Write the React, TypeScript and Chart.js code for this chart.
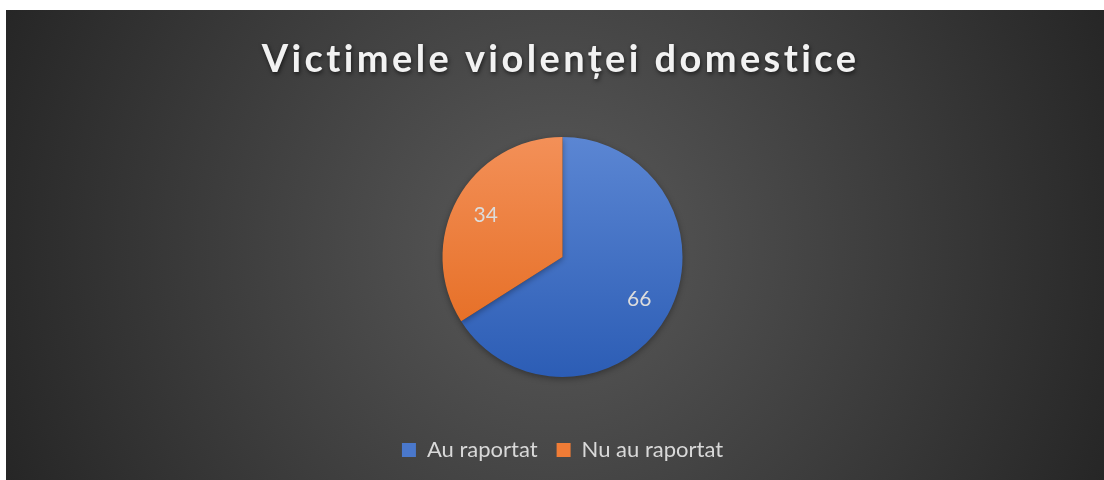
import React, { useEffect, useRef } from 'react';
import { Chart, registerables } from 'chart.js';

Chart.register(...registerables);

const TITLE = 'Victimele violenței domestice';
const categories = ['Au raportat', 'Nu au raportat'];
const values = [66, 34];
const topColors = ['#5b86d3', '#f39058'];
const bottomColors = ['#2c5db5', '#e3671a'];
const swatchColors = ['#4a78cc', '#f07c36'];

const PIE_RADIUS = 120;
const FONT = 'Lato, Carlito, Calibri, "Open Sans", sans-serif';

const titlePlugin = {
  id: 'customTitle',
  afterDraw(chart: any) {
    const { ctx, chartArea } = chart;
    const cx = (chartArea.left + chartArea.right) / 2 - 2;
    ctx.save();
    ctx.font = `bold 38px ${FONT}`;
    (ctx as any).letterSpacing = '3.4px';
    ctx.textAlign = 'center';
    ctx.textBaseline = 'alphabetic';
    ctx.shadowColor = 'rgba(0,0,0,0.6)';
    ctx.shadowBlur = 4;
    ctx.shadowOffsetX = 1;
    ctx.shadowOffsetY = 2;
    ctx.fillStyle = '#f2f2f2';
    ctx.fillText(TITLE, cx, 62);
    ctx.restore();
  },
};

const shadowPlugin = {
  id: 'pieShadow',
  beforeDatasetsDraw(chart: any) {
    const ctx = chart.ctx;
    ctx.save();
    ctx.shadowColor = 'rgba(0,0,0,0.35)';
    ctx.shadowBlur = 6;
    ctx.shadowOffsetY = 2;
  },
  afterDatasetsDraw(chart: any) {
    chart.ctx.restore();
  },
};

const valueLabelPlugin = {
  id: 'valueLabels',
  afterDatasetsDraw(chart: any) {
    const { ctx } = chart;
    const meta = chart.getDatasetMeta(0);
    ctx.save();
    ctx.font = `21px ${FONT}`;
    ctx.fillStyle = '#dcdcdc';
    ctx.textAlign = 'center';
    ctx.textBaseline = 'middle';
    meta.data.forEach((arc: any, i: number) => {
      const { x, y, startAngle, endAngle, outerRadius } = arc.getProps(
        ['x', 'y', 'startAngle', 'endAngle', 'outerRadius'],
        true
      );
      const mid = (startAngle + endAngle) / 2;
      const r = outerRadius * 0.73;
      ctx.fillText(String(values[i]), x + Math.cos(mid) * r, y + Math.sin(mid) * r);
    });
    ctx.restore();
  },
};

export default function App() {
  const canvasRef = useRef<HTMLCanvasElement | null>(null);

  useEffect(() => {
    if (!canvasRef.current) return;
    const chart = new Chart(canvasRef.current, {
      type: 'pie',
      data: {
        labels: categories,
        datasets: [
          {
            data: values,
            radius: PIE_RADIUS,
            borderWidth: 0,
            backgroundColor: (c: any) => {
              const i = c.dataIndex ?? 0;
              const chartObj = c.chart;
              const area = chartObj.chartArea;
              if (!area) return swatchColors[i];
              const cy = (area.top + area.bottom) / 2;
              const g = chartObj.ctx.createLinearGradient(0, cy - PIE_RADIUS, 0, cy + PIE_RADIUS);
              g.addColorStop(0, topColors[i]);
              g.addColorStop(1, bottomColors[i]);
              return g;
            },
          } as any,
        ],
      },
      options: {
        animation: false,
        responsive: false,
        maintainAspectRatio: false,
        layout: { padding: { top: 84, bottom: 9, left: 15, right: 0 } },
        plugins: {
          title: { display: false },
          tooltip: { enabled: false },
          legend: {
            display: true,
            position: 'bottom',
            labels: {
              font: { family: FONT, size: 22 },
              color: '#d9d9d9',
              boxWidth: 14,
              boxHeight: 14,
              padding: 19,
              generateLabels: () =>
                categories.map((label, i) => ({
                  text: label,
                  fillStyle: swatchColors[i],
                  strokeStyle: swatchColors[i],
                  lineWidth: 0,
                  fontColor: '#d9d9d9',
                  hidden: false,
                  index: i,
                })),
            },
          },
        },
      },
      plugins: [shadowPlugin, valueLabelPlugin, titlePlugin],
    });
    return () => chart.destroy();
  }, []);

  return (
    <div
      style={{
        position: 'absolute',
        left: 6,
        top: 10,
        width: 1098,
        height: 470,
        background:
          'radial-gradient(circle farthest-corner at 50% 50%, #5a5a5a 0%, #262626 100%)',
      }}
    >
      <canvas ref={canvasRef} width={1098} height={470} style={{ display: 'block' }} />
    </div>
  );
}
